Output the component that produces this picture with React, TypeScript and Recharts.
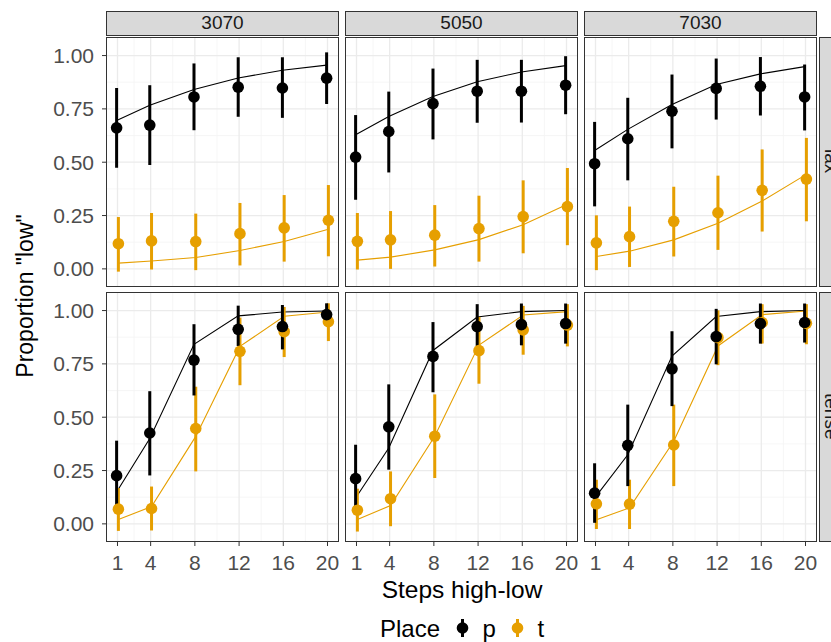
import React from 'react';
import { ComposedChart, Line, Scatter, ErrorBar, XAxis, YAxis, CartesianGrid } from 'recharts';

// facets
const columns = ['3070', '5050', '7030'];
const rows = ['lax', 'tense'];
const places = ['p', 't'];
const placeColors = ['#000000', '#E69F00'];
const steps = [1, 4, 8, 12, 16, 20];

const yTicks = [0, 0.25, 0.5, 0.75, 1];
const yMinor = [0.125, 0.375, 0.625, 0.875];
const xMinor = [2.5, 6, 10, 14, 18];

// lax row, one inner array per column (3070, 5050, 7030)
const laxPMean = [
  [0.661, 0.674, 0.806, 0.852, 0.848, 0.894],
  [0.524, 0.644, 0.775, 0.833, 0.833, 0.861],
  [0.493, 0.61, 0.739, 0.846, 0.856, 0.806],
];
const laxPLo = [
  [0.474, 0.487, 0.65, 0.713, 0.708, 0.773],
  [0.324, 0.452, 0.607, 0.685, 0.686, 0.725],
  [0.293, 0.415, 0.565, 0.7, 0.719, 0.649],
];
const laxPHi = [
  [0.848, 0.861, 0.963, 0.992, 0.992, 1.015],
  [0.721, 0.831, 0.939, 0.98, 0.98, 0.997],
  [0.689, 0.802, 0.911, 0.986, 0.993, 0.958],
];
const laxPFit = [
  [0.696, 0.767, 0.841, 0.895, 0.931, 0.955],
  [0.629, 0.714, 0.808, 0.877, 0.923, 0.953],
  [0.555, 0.654, 0.771, 0.864, 0.914, 0.948],
];
const laxTMean = [
  [0.118, 0.131, 0.128, 0.165, 0.192, 0.228],
  [0.129, 0.136, 0.158, 0.189, 0.245, 0.292],
  [0.122, 0.151, 0.223, 0.263, 0.368, 0.421],
];
const laxTLo = [
  [-0.013, -0.003, -0.006, 0.016, 0.034, 0.059],
  [-0.003, 0.0, 0.011, 0.034, 0.073, 0.111],
  [-0.006, 0.009, 0.058, 0.089, 0.175, 0.223],
];
const laxTHi = [
  [0.243, 0.262, 0.259, 0.309, 0.346, 0.393],
  [0.262, 0.271, 0.299, 0.343, 0.415, 0.473],
  [0.251, 0.292, 0.385, 0.437, 0.56, 0.614],
];
const laxTFit = [
  [0.027, 0.037, 0.053, 0.086, 0.128, 0.186],
  [0.041, 0.055, 0.089, 0.137, 0.207, 0.303],
  [0.058, 0.083, 0.136, 0.214, 0.318, 0.443],
];

// tense row
const tensePMean = [
  [0.226, 0.426, 0.768, 0.912, 0.925, 0.981],
  [0.212, 0.455, 0.785, 0.925, 0.934, 0.939],
  [0.144, 0.368, 0.727, 0.878, 0.939, 0.944],
];
const tensePLo = [
  [0.07, 0.227, 0.602, 0.834, 0.818, 0.95],
  [0.06, 0.254, 0.617, 0.834, 0.837, 0.845],
  [0.005, 0.177, 0.552, 0.748, 0.845, 0.85],
];
const tensePHi = [
  [0.39, 0.622, 0.936, 1.023, 1.026, 1.034],
  [0.371, 0.654, 0.946, 1.03, 1.033, 1.033],
  [0.284, 0.559, 0.903, 1.008, 1.033, 1.033],
];
const tensePFit = [
  [0.149, 0.4, 0.842, 0.975, 0.993, 0.998],
  [0.121, 0.356, 0.813, 0.97, 0.995, 1.0],
  [0.121, 0.324, 0.787, 0.972, 0.995, 1.0],
];
const tenseTMean = [
  [0.069, 0.072, 0.447, 0.809, 0.901, 0.948],
  [0.064, 0.118, 0.411, 0.812, 0.909, 0.932],
  [0.094, 0.093, 0.37, 0.873, 0.944, 0.94],
];
const tenseTLo = [
  [-0.033, -0.031, 0.246, 0.65, 0.782, 0.857],
  [-0.036, -0.011, 0.215, 0.657, 0.793, 0.832],
  [-0.024, -0.024, 0.177, 0.744, 0.845, 0.842],
];
const tenseTHi = [
  [0.168, 0.175, 0.643, 0.967, 1.017, 1.034],
  [0.165, 0.246, 0.607, 0.97, 1.022, 1.03],
  [0.207, 0.207, 0.559, 1.001, 1.03, 1.03],
];
const tenseTFit = [
  [0.02, 0.081, 0.41, 0.832, 0.973, 0.993],
  [0.02, 0.086, 0.411, 0.838, 0.979, 0.995],
  [0.019, 0.075, 0.387, 0.834, 0.981, 0.998],
];

const table = [
  [
    { mean: laxPMean, lo: laxPLo, hi: laxPHi, fit: laxPFit },
    { mean: laxTMean, lo: laxTLo, hi: laxTHi, fit: laxTFit },
  ],
  [
    { mean: tensePMean, lo: tensePLo, hi: tensePHi, fit: tensePFit },
    { mean: tenseTMean, lo: tenseTLo, hi: tenseTHi, fit: tenseTFit },
  ],
];

// layout
const panelLeft = [106, 345, 584];
const panelTop = [36.5, 291.5];
const panelW = 233;
const panelH = 250;
const yAxisW = 106;
const xAxisH = 40;
const stripH = 25;
const dodge = [-0.08, 0.08];
const font = '"Liberation Sans", Arial, Helvetica, sans-serif';

function Panel({ r, c }: { r: number; c: number }) {
  const showY = c === 0;
  const showX = r === 1;
  const series = places.map((_, k) => {
    const s = table[r][k];
    return steps.map((x, i) => ({
      x: x + dodge[k],
      y: s.mean[c][i],
      fit: s.fit[c][i],
      err: [s.mean[c][i] - s.lo[c][i], s.hi[c][i] - s.mean[c][i]],
    }));
  });
  const left = showY ? panelLeft[c] - yAxisW : panelLeft[c];
  return (
    <div style={{ position: 'absolute', left, top: panelTop[r] }}>
      <ComposedChart
        width={panelW + (showY ? yAxisW : 0)}
        height={panelH + (showX ? xAxisH : 0)}
        margin={{ top: 0, right: 0, bottom: 0, left: 0 }}
      >
        <CartesianGrid horizontalValues={yMinor} verticalValues={xMinor} stroke="#F4F4F4" strokeWidth={0.8} />
        <CartesianGrid horizontalValues={yTicks} verticalValues={steps} stroke="#EBEBEB" strokeWidth={1.3} />
        <XAxis
          type="number"
          dataKey="x"
          domain={[-0.04, 21.04]}
          ticks={steps}
          allowDataOverflow
          hide={!showX}
          height={xAxisH}
          axisLine={false}
          tickSize={4}
          tickMargin={9}
          tickLine={{ stroke: '#333333' }}
          tick={{ fill: '#4D4D4D', fontSize: 21 }}
        />
        <YAxis
          type="number"
          domain={[-0.085, 1.087]}
          ticks={yTicks}
          allowDataOverflow
          hide={!showY}
          width={yAxisW}
          axisLine={false}
          tickSize={4}
          tickMargin={8}
          tickLine={{ stroke: '#333333' }}
          tick={{ fill: '#4D4D4D', fontSize: 21 }}
          tickFormatter={(v: number) => v.toFixed(2)}
        />
        {places.map((pl, k) => (
          <Line
            key={'line-' + pl}
            data={series[k]}
            dataKey="fit"
            type="linear"
            stroke={placeColors[k]}
            strokeWidth={1.1}
            dot={false}
            isAnimationActive={false}
          />
        ))}
        {[1, 0].map((k) => (
          <Scatter
            key={'pts-' + places[k]}
            data={series[k]}
            dataKey="y"
            fill={placeColors[k]}
            isAnimationActive={false}
            shape={(p: any) => <circle cx={p.cx} cy={p.cy} r={5.8} fill={placeColors[k]} />}
          >
            <ErrorBar dataKey="err" direction="y" width={0} stroke={placeColors[k]} strokeWidth={3} />
          </Scatter>
        ))}
      </ComposedChart>
    </div>
  );
}

export default function App() {
  return (
    <div
      style={{
        position: 'relative',
        width: 831,
        height: 642,
        overflow: 'hidden',
        background: '#fff',
        fontFamily: font,
      }}
    >
      <style>{'body{margin:0}'}</style>
      {rows.map((_, r) => columns.map((__, c) => <Panel key={r + '-' + c} r={r} c={c} />))}

      {/* panel borders */}
      {rows.map((_, r) =>
        columns.map((__, c) => (
          <div
            key={'b' + r + c}
            style={{
              position: 'absolute',
              left: panelLeft[c],
              top: panelTop[r],
              width: panelW,
              height: panelH,
              border: '1px solid #333333',
              boxSizing: 'border-box',
              pointerEvents: 'none',
            }}
          />
        ))
      )}

      {/* top strips */}
      {columns.map((label, c) => (
        <div
          key={'s' + c}
          style={{
            position: 'absolute',
            left: panelLeft[c],
            top: panelTop[0] - stripH - 1,
            width: panelW,
            height: stripH,
            background: '#D9D9D9',
            border: '1px solid #333333',
            boxSizing: 'border-box',
            display: 'flex',
            alignItems: 'center',
            justifyContent: 'center',
            fontSize: 19,
            color: '#1A1A1A',
          }}
        >
          {label}
        </div>
      ))}

      {/* right strips, cut by the page edge as in the original */}
      {rows.map((label, r) => (
        <div
          key={'rs' + r}
          style={{
            position: 'absolute',
            left: panelLeft[2] + panelW + 1.5,
            top: panelTop[r],
            width: stripH,
            height: panelH,
            background: '#D9D9D9',
            border: '1px solid #333333',
            boxSizing: 'border-box',
            display: 'flex',
            alignItems: 'center',
            justifyContent: 'center',
            writingMode: 'vertical-rl',
            fontSize: 19,
            color: '#1A1A1A',
          }}
        >
          {label}
        </div>
      ))}

      {/* titles and legend */}
      <svg width={831} height={642} style={{ position: 'absolute', left: 0, top: 0, pointerEvents: 'none' }}>
        <text
          transform="translate(33,296) rotate(-90)"
          textAnchor="middle"
          fontSize={23}
          fill="#000"
          fontFamily={font}
        >
          Proportion "low"
        </text>
        <text x={462} y={598} textAnchor="middle" fontSize={24.5} fill="#000" fontFamily={font}>
          Steps high-low
        </text>
        <text x={380} y={637} fontSize={24} fill="#000" fontFamily={font}>
          Place
        </text>
        {places.map((pl, k) => {
          const cx = 462.5 + k * 55;
          return (
            <g key={'lg' + pl}>
              <line x1={cx} x2={cx} y1={619} y2={637} stroke={placeColors[k]} strokeWidth={3} />
              <circle cx={cx} cy={628} r={5.8} fill={placeColors[k]} />
              <text x={cx + 20} y={637} fontSize={24} fill="#000" fontFamily={font}>
                {pl}
              </text>
            </g>
          );
        })}
      </svg>
    </div>
  );
}
